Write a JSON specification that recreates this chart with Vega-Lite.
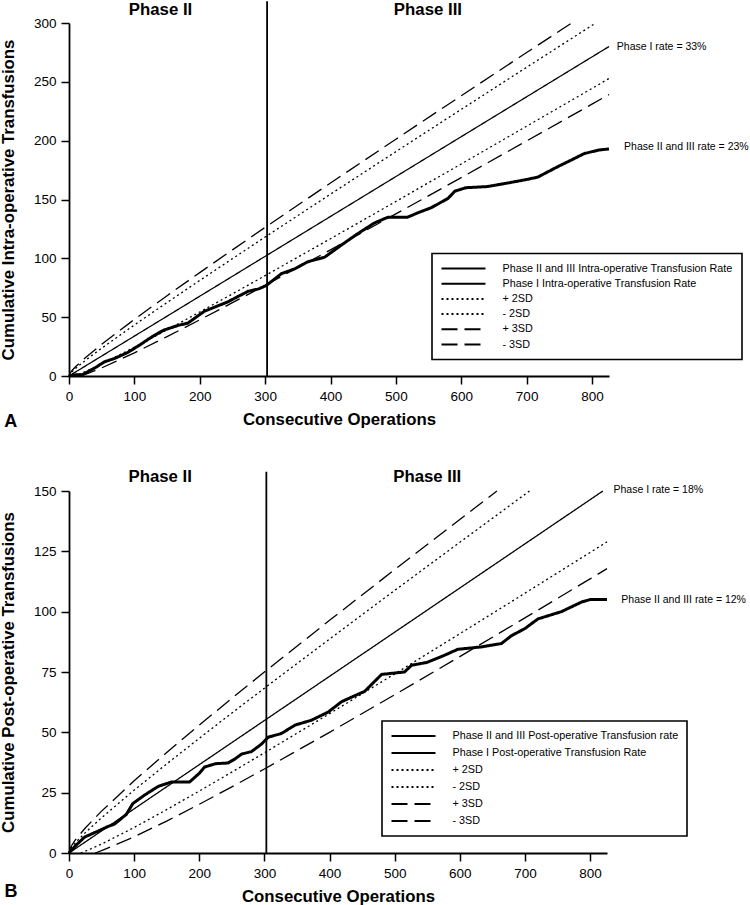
{
  "$schema": "https://vega.github.io/schema/vega-lite/v6.json",
  "padding": {"left": 0, "top": 0, "right": 0, "bottom": 0},
  "background": "white",
  "spacing": 38,
  "config": {
    "font": "Liberation Sans",
    "view": {"stroke": null},
    "axis": {"grid": false, "domainColor": "black", "domainWidth": 1.8, "tickColor": "black", "tickWidth": 1.5, "tickSize": 8, "labelColor": "black", "labelFont": "Liberation Sans", "labelFontSize": 13.5, "titleColor": "black", "titleFont": "Liberation Sans", "titleFontSize": 16.8, "titleFontWeight": "bold"},
    "axisX": {"labelPadding": 5, "titlePadding": 9, "labelFlush": false},
    "axisY": {"labelPadding": 5, "titlePadding": 16},
    "legend": {"strokeWidth": 1.6, "strokeColor": "black", "fillColor": "white", "padding": 8.5, "labelFont": "Liberation Sans", "labelFontSize": 10.8, "labelColor": "black", "labelLimit": 400, "symbolType": "stroke", "symbolSize": 1936, "symbolStrokeWidth": 2, "symbolStrokeColor": "black", "labelOffset": 16, "clipHeight": 13}
  },
  "resolve": {"scale": {"strokeDash": "independent"}, "legend": {"strokeDash": "independent"}},
  "datasets": {
    "a": [
      {"s": "Phase I Intra-operative Transfusion Rate", "n": 0, "v": 0},
      {"s": "Phase I Intra-operative Transfusion Rate", "n": 826, "v": 280},
      {"s": "+ 2SD", "n": 0, "v": 0}, {"s": "+ 2SD", "n": 2, "v": 2.02}, {"s": "+ 2SD", "n": 5, "v": 3.81}, {"s": "+ 2SD", "n": 10, "v": 6.38}, {"s": "+ 2SD", "n": 25, "v": 13.21}, {"s": "+ 2SD", "n": 50, "v": 23.64}, {"s": "+ 2SD", "n": 100, "v": 43.37}, {"s": "+ 2SD", "n": 150, "v": 62.45}, {"s": "+ 2SD", "n": 200, "v": 81.19}, {"s": "+ 2SD", "n": 250, "v": 99.72}, {"s": "+ 2SD", "n": 300, "v": 118.1}, {"s": "+ 2SD", "n": 400, "v": 154.54}, {"s": "+ 2SD", "n": 500, "v": 190.67}, {"s": "+ 2SD", "n": 600, "v": 226.59}, {"s": "+ 2SD", "n": 700, "v": 262.35}, {"s": "+ 2SD", "n": 805.7, "v": 300},
      {"s": "+ 3SD", "n": 0, "v": 0}, {"s": "+ 3SD", "n": 2, "v": 2.69}, {"s": "+ 3SD", "n": 5, "v": 4.87}, {"s": "+ 3SD", "n": 10, "v": 7.88}, {"s": "+ 3SD", "n": 25, "v": 15.58}, {"s": "+ 3SD", "n": 50, "v": 26.99}, {"s": "+ 3SD", "n": 100, "v": 48.1}, {"s": "+ 3SD", "n": 150, "v": 68.24}, {"s": "+ 3SD", "n": 200, "v": 87.88}, {"s": "+ 3SD", "n": 250, "v": 107.21}, {"s": "+ 3SD", "n": 300, "v": 126.3}, {"s": "+ 3SD", "n": 400, "v": 164.0}, {"s": "+ 3SD", "n": 500, "v": 201.26}, {"s": "+ 3SD", "n": 600, "v": 238.19}, {"s": "+ 3SD", "n": 700, "v": 274.88}, {"s": "+ 3SD", "n": 769, "v": 300},
      {"s": "- 2SD", "n": 7.8, "v": 0}, {"s": "- 2SD", "n": 10, "v": 0.4}, {"s": "- 2SD", "n": 25, "v": 3.74}, {"s": "- 2SD", "n": 50, "v": 10.26}, {"s": "- 2SD", "n": 100, "v": 24.43}, {"s": "- 2SD", "n": 150, "v": 39.25}, {"s": "- 2SD", "n": 200, "v": 54.41}, {"s": "- 2SD", "n": 250, "v": 69.78}, {"s": "- 2SD", "n": 300, "v": 85.3}, {"s": "- 2SD", "n": 400, "v": 116.66}, {"s": "- 2SD", "n": 500, "v": 148.33}, {"s": "- 2SD", "n": 600, "v": 180.21}, {"s": "- 2SD", "n": 700, "v": 212.25}, {"s": "- 2SD", "n": 800, "v": 244.42}, {"s": "- 2SD", "n": 826, "v": 252.8},
      {"s": "- 3SD", "n": 17.6, "v": 0}, {"s": "- 3SD", "n": 25, "v": 1.37}, {"s": "- 3SD", "n": 50, "v": 6.91}, {"s": "- 3SD", "n": 100, "v": 19.7}, {"s": "- 3SD", "n": 150, "v": 33.46}, {"s": "- 3SD", "n": 200, "v": 47.72}, {"s": "- 3SD", "n": 250, "v": 62.3}, {"s": "- 3SD", "n": 300, "v": 77.1}, {"s": "- 3SD", "n": 400, "v": 107.2}, {"s": "- 3SD", "n": 500, "v": 137.74}, {"s": "- 3SD", "n": 600, "v": 168.61}, {"s": "- 3SD", "n": 700, "v": 199.73}, {"s": "- 3SD", "n": 800, "v": 231.03}, {"s": "- 3SD", "n": 826, "v": 239.19},
      {"s": "Phase II and III Intra-operative Transfusion Rate", "n": 0, "v": 0},
      {"s": "Phase II and III Intra-operative Transfusion Rate", "n": 10, "v": 1},
      {"s": "Phase II and III Intra-operative Transfusion Rate", "n": 20, "v": 1},
      {"s": "Phase II and III Intra-operative Transfusion Rate", "n": 30, "v": 4},
      {"s": "Phase II and III Intra-operative Transfusion Rate", "n": 40, "v": 7},
      {"s": "Phase II and III Intra-operative Transfusion Rate", "n": 54, "v": 12},
      {"s": "Phase II and III Intra-operative Transfusion Rate", "n": 70, "v": 15},
      {"s": "Phase II and III Intra-operative Transfusion Rate", "n": 90, "v": 20},
      {"s": "Phase II and III Intra-operative Transfusion Rate", "n": 110, "v": 27},
      {"s": "Phase II and III Intra-operative Transfusion Rate", "n": 126, "v": 33},
      {"s": "Phase II and III Intra-operative Transfusion Rate", "n": 145, "v": 39},
      {"s": "Phase II and III Intra-operative Transfusion Rate", "n": 167, "v": 43},
      {"s": "Phase II and III Intra-operative Transfusion Rate", "n": 182, "v": 45},
      {"s": "Phase II and III Intra-operative Transfusion Rate", "n": 207, "v": 55},
      {"s": "Phase II and III Intra-operative Transfusion Rate", "n": 225, "v": 59},
      {"s": "Phase II and III Intra-operative Transfusion Rate", "n": 243, "v": 63},
      {"s": "Phase II and III Intra-operative Transfusion Rate", "n": 260, "v": 68},
      {"s": "Phase II and III Intra-operative Transfusion Rate", "n": 274, "v": 72},
      {"s": "Phase II and III Intra-operative Transfusion Rate", "n": 290, "v": 74},
      {"s": "Phase II and III Intra-operative Transfusion Rate", "n": 302, "v": 77},
      {"s": "Phase II and III Intra-operative Transfusion Rate", "n": 325, "v": 87},
      {"s": "Phase II and III Intra-operative Transfusion Rate", "n": 345, "v": 91},
      {"s": "Phase II and III Intra-operative Transfusion Rate", "n": 365, "v": 97},
      {"s": "Phase II and III Intra-operative Transfusion Rate", "n": 391, "v": 101},
      {"s": "Phase II and III Intra-operative Transfusion Rate", "n": 401, "v": 105},
      {"s": "Phase II and III Intra-operative Transfusion Rate", "n": 416, "v": 111},
      {"s": "Phase II and III Intra-operative Transfusion Rate", "n": 439, "v": 120},
      {"s": "Phase II and III Intra-operative Transfusion Rate", "n": 467, "v": 130},
      {"s": "Phase II and III Intra-operative Transfusion Rate", "n": 488, "v": 135},
      {"s": "Phase II and III Intra-operative Transfusion Rate", "n": 518, "v": 135},
      {"s": "Phase II and III Intra-operative Transfusion Rate", "n": 535, "v": 139},
      {"s": "Phase II and III Intra-operative Transfusion Rate", "n": 554, "v": 143},
      {"s": "Phase II and III Intra-operative Transfusion Rate", "n": 580, "v": 151},
      {"s": "Phase II and III Intra-operative Transfusion Rate", "n": 590, "v": 157},
      {"s": "Phase II and III Intra-operative Transfusion Rate", "n": 607, "v": 160},
      {"s": "Phase II and III Intra-operative Transfusion Rate", "n": 640, "v": 161},
      {"s": "Phase II and III Intra-operative Transfusion Rate", "n": 671, "v": 164},
      {"s": "Phase II and III Intra-operative Transfusion Rate", "n": 700, "v": 167},
      {"s": "Phase II and III Intra-operative Transfusion Rate", "n": 717, "v": 169},
      {"s": "Phase II and III Intra-operative Transfusion Rate", "n": 748, "v": 178},
      {"s": "Phase II and III Intra-operative Transfusion Rate", "n": 770, "v": 184},
      {"s": "Phase II and III Intra-operative Transfusion Rate", "n": 788, "v": 189},
      {"s": "Phase II and III Intra-operative Transfusion Rate", "n": 810, "v": 192},
      {"s": "Phase II and III Intra-operative Transfusion Rate", "n": 826, "v": 193}
    ],
    "b": [
      {"s": "Phase I Post-operative Transfusion Rate", "n": 0, "v": 0},
      {"s": "Phase I Post-operative Transfusion Rate", "n": 819.7, "v": 150},
      {"s": "+ 2SD", "n": 0, "v": 0}, {"s": "+ 2SD", "n": 2, "v": 1.46}, {"s": "+ 2SD", "n": 5, "v": 2.64}, {"s": "+ 2SD", "n": 10, "v": 4.28}, {"s": "+ 2SD", "n": 25, "v": 8.44}, {"s": "+ 2SD", "n": 50, "v": 14.62}, {"s": "+ 2SD", "n": 100, "v": 26.03}, {"s": "+ 2SD", "n": 150, "v": 36.92}, {"s": "+ 2SD", "n": 200, "v": 47.54}, {"s": "+ 2SD", "n": 250, "v": 57.98}, {"s": "+ 2SD", "n": 300, "v": 68.29}, {"s": "+ 2SD", "n": 400, "v": 88.67}, {"s": "+ 2SD", "n": 500, "v": 108.79}, {"s": "+ 2SD", "n": 600, "v": 128.74}, {"s": "+ 2SD", "n": 707, "v": 150},
      {"s": "+ 3SD", "n": 0, "v": 0}, {"s": "+ 3SD", "n": 2, "v": 2.01}, {"s": "+ 3SD", "n": 5, "v": 3.51}, {"s": "+ 3SD", "n": 10, "v": 5.5}, {"s": "+ 3SD", "n": 25, "v": 10.37}, {"s": "+ 3SD", "n": 50, "v": 17.35}, {"s": "+ 3SD", "n": 100, "v": 29.9}, {"s": "+ 3SD", "n": 150, "v": 41.66}, {"s": "+ 3SD", "n": 200, "v": 53.0}, {"s": "+ 3SD", "n": 250, "v": 64.09}, {"s": "+ 3SD", "n": 300, "v": 74.99}, {"s": "+ 3SD", "n": 400, "v": 96.4}, {"s": "+ 3SD", "n": 500, "v": 117.44}, {"s": "+ 3SD", "n": 600, "v": 138.21}, {"s": "+ 3SD", "n": 657, "v": 150},
      {"s": "- 2SD", "n": 17.9, "v": 0}, {"s": "- 2SD", "n": 25, "v": 0.71}, {"s": "- 2SD", "n": 50, "v": 3.68}, {"s": "- 2SD", "n": 100, "v": 10.57}, {"s": "- 2SD", "n": 150, "v": 17.98}, {"s": "- 2SD", "n": 200, "v": 25.66}, {"s": "- 2SD", "n": 250, "v": 33.52}, {"s": "- 2SD", "n": 300, "v": 41.51}, {"s": "- 2SD", "n": 400, "v": 57.73}, {"s": "- 2SD", "n": 500, "v": 74.21}, {"s": "- 2SD", "n": 600, "v": 90.86}, {"s": "- 2SD", "n": 700, "v": 107.64}, {"s": "- 2SD", "n": 800, "v": 124.53}, {"s": "- 2SD", "n": 826, "v": 128.93},
      {"s": "- 3SD", "n": 40.2, "v": 0}, {"s": "- 3SD", "n": 50, "v": 0.95}, {"s": "- 3SD", "n": 100, "v": 6.7}, {"s": "- 3SD", "n": 150, "v": 13.24}, {"s": "- 3SD", "n": 200, "v": 20.2}, {"s": "- 3SD", "n": 250, "v": 27.41}, {"s": "- 3SD", "n": 300, "v": 34.81}, {"s": "- 3SD", "n": 400, "v": 50.0}, {"s": "- 3SD", "n": 500, "v": 65.56}, {"s": "- 3SD", "n": 600, "v": 81.39}, {"s": "- 3SD", "n": 700, "v": 97.41}, {"s": "- 3SD", "n": 800, "v": 113.59}, {"s": "- 3SD", "n": 826, "v": 117.82},
      {"s": "Phase II and III Post-operative Transfusion rate", "n": 0, "v": 0},
      {"s": "Phase II and III Post-operative Transfusion rate", "n": 10, "v": 3},
      {"s": "Phase II and III Post-operative Transfusion rate", "n": 24, "v": 6.6},
      {"s": "Phase II and III Post-operative Transfusion rate", "n": 44, "v": 9},
      {"s": "Phase II and III Post-operative Transfusion rate", "n": 60, "v": 11},
      {"s": "Phase II and III Post-operative Transfusion rate", "n": 70, "v": 12},
      {"s": "Phase II and III Post-operative Transfusion rate", "n": 88, "v": 16},
      {"s": "Phase II and III Post-operative Transfusion rate", "n": 98, "v": 20.5},
      {"s": "Phase II and III Post-operative Transfusion rate", "n": 116, "v": 24},
      {"s": "Phase II and III Post-operative Transfusion rate", "n": 137, "v": 27.6},
      {"s": "Phase II and III Post-operative Transfusion rate", "n": 157, "v": 29.4},
      {"s": "Phase II and III Post-operative Transfusion rate", "n": 185, "v": 29.4},
      {"s": "Phase II and III Post-operative Transfusion rate", "n": 200, "v": 33},
      {"s": "Phase II and III Post-operative Transfusion rate", "n": 208, "v": 35.6},
      {"s": "Phase II and III Post-operative Transfusion rate", "n": 225, "v": 37},
      {"s": "Phase II and III Post-operative Transfusion rate", "n": 244, "v": 37.3},
      {"s": "Phase II and III Post-operative Transfusion rate", "n": 255, "v": 39},
      {"s": "Phase II and III Post-operative Transfusion rate", "n": 265, "v": 41},
      {"s": "Phase II and III Post-operative Transfusion rate", "n": 280, "v": 42},
      {"s": "Phase II and III Post-operative Transfusion rate", "n": 295, "v": 45},
      {"s": "Phase II and III Post-operative Transfusion rate", "n": 306, "v": 48},
      {"s": "Phase II and III Post-operative Transfusion rate", "n": 326, "v": 49.5},
      {"s": "Phase II and III Post-operative Transfusion rate", "n": 347, "v": 53},
      {"s": "Phase II and III Post-operative Transfusion rate", "n": 372, "v": 55},
      {"s": "Phase II and III Post-operative Transfusion rate", "n": 398, "v": 58.4},
      {"s": "Phase II and III Post-operative Transfusion rate", "n": 418, "v": 62.6},
      {"s": "Phase II and III Post-operative Transfusion rate", "n": 429, "v": 64},
      {"s": "Phase II and III Post-operative Transfusion rate", "n": 454, "v": 67},
      {"s": "Phase II and III Post-operative Transfusion rate", "n": 480, "v": 74},
      {"s": "Phase II and III Post-operative Transfusion rate", "n": 515, "v": 75},
      {"s": "Phase II and III Post-operative Transfusion rate", "n": 526, "v": 77.8},
      {"s": "Phase II and III Post-operative Transfusion rate", "n": 550, "v": 79},
      {"s": "Phase II and III Post-operative Transfusion rate", "n": 577, "v": 82},
      {"s": "Phase II and III Post-operative Transfusion rate", "n": 597, "v": 84.4},
      {"s": "Phase II and III Post-operative Transfusion rate", "n": 633, "v": 85.4},
      {"s": "Phase II and III Post-operative Transfusion rate", "n": 664, "v": 86.8},
      {"s": "Phase II and III Post-operative Transfusion rate", "n": 679, "v": 90},
      {"s": "Phase II and III Post-operative Transfusion rate", "n": 700, "v": 93},
      {"s": "Phase II and III Post-operative Transfusion rate", "n": 720, "v": 97},
      {"s": "Phase II and III Post-operative Transfusion rate", "n": 756, "v": 100},
      {"s": "Phase II and III Post-operative Transfusion rate", "n": 787, "v": 104},
      {"s": "Phase II and III Post-operative Transfusion rate", "n": 800, "v": 105},
      {"s": "Phase II and III Post-operative Transfusion rate", "n": 826, "v": 105}
    ]
  },
  "vconcat": [
    {
      "width": 540,
      "height": 353,
      "layer": [
        {
          "data": {"name": "a"},
          "transform": [{"filter": "datum.s != 'Phase II and III Intra-operative Transfusion Rate'"}],
          "mark": {"type": "line", "color": "black", "strokeWidth": 1.3},
          "encoding": {
            "x": {"field": "n", "type": "quantitative", "scale": {"domain": [0, 826], "nice": false}, "axis": {"values": [0, 100, 200, 300, 400, 500, 600, 700, 800], "title": "Consecutive Operations"}},
            "y": {"field": "v", "type": "quantitative", "scale": {"domain": [0, 300], "nice": false}, "axis": {"values": [0, 50, 100, 150, 200, 250, 300], "title": "Cumulative Intra-operative Transfusions"}},
            "strokeDash": {"field": "s", "type": "nominal",
              "scale": {"domain": ["Phase II and III Intra-operative Transfusion Rate", "Phase I Intra-operative Transfusion Rate", "+ 2SD", "- 2SD", "+ 3SD", "- 3SD"], "range": [[1, 0], [1, 0], [2, 3], [2, 3], [16, 7], [16, 7]]},
              "legend": {"title": null, "orient": "none", "legendX": 363, "legendY": 230.5, "direction": "vertical", "rowPadding": 2.2}}
          }
        },
        {
          "data": {"name": "a"},
          "transform": [{"filter": "datum.s == 'Phase II and III Intra-operative Transfusion Rate'"}],
          "mark": {"type": "line", "color": "black", "strokeWidth": 3},
          "encoding": {
            "x": {"field": "n", "type": "quantitative"},
            "y": {"field": "v", "type": "quantitative"},
            "strokeDash": {"field": "s", "type": "nominal"}
          }
        },
        {
          "data": {"values": [{}]},
          "mark": {"type": "rule", "color": "black", "strokeWidth": 1.8},
          "encoding": {"x": {"datum": 303, "type": "quantitative"}, "y": {"datum": 0, "type": "quantitative"}, "y2": {"datum": 318.5}}
        },
        {
          "data": {"values": [{}]},
          "mark": {"type": "text", "text": "Phase II", "fontSize": 16.8, "fontWeight": "bold", "align": "center", "baseline": "middle", "color": "black"},
          "encoding": {"x": {"datum": 140, "type": "quantitative"}, "y": {"datum": 311, "type": "quantitative"}}
        },
        {
          "data": {"values": [{}]},
          "mark": {"type": "text", "text": "Phase III", "fontSize": 16.8, "fontWeight": "bold", "align": "center", "baseline": "middle", "color": "black"},
          "encoding": {"x": {"datum": 549, "type": "quantitative"}, "y": {"datum": 311, "type": "quantitative"}}
        },
        {
          "data": {"values": [{}]},
          "mark": {"type": "text", "text": "Phase I rate = 33%", "fontSize": 10.5, "align": "left", "baseline": "middle", "color": "black"},
          "encoding": {"x": {"datum": 838, "type": "quantitative"}, "y": {"datum": 280, "type": "quantitative"}}
        },
        {
          "data": {"values": [{}]},
          "mark": {"type": "text", "text": "Phase II and III rate = 23%", "fontSize": 10.5, "align": "left", "baseline": "middle", "color": "black"},
          "encoding": {"x": {"datum": 849, "type": "quantitative"}, "y": {"datum": 195, "type": "quantitative"}}
        },
        {
          "data": {"values": [{}]},
          "mark": {"type": "text", "text": "A", "fontSize": 18, "fontWeight": "bold", "align": "center", "baseline": "middle", "color": "black"},
          "encoding": {"x": {"datum": -89, "type": "quantitative"}, "y": {"datum": -38.7, "type": "quantitative"}}
        }
      ]
    },
    {
      "width": 538,
      "height": 362,
      "layer": [
        {
          "data": {"name": "b"},
          "transform": [{"filter": "datum.s != 'Phase II and III Post-operative Transfusion rate'"}],
          "mark": {"type": "line", "color": "black", "strokeWidth": 1.3},
          "encoding": {
            "x": {"field": "n", "type": "quantitative", "scale": {"domain": [0, 826], "nice": false}, "axis": {"values": [0, 100, 200, 300, 400, 500, 600, 700, 800], "title": "Consecutive Operations"}},
            "y": {"field": "v", "type": "quantitative", "scale": {"domain": [0, 150], "nice": false}, "axis": {"values": [0, 25, 50, 75, 100, 125, 150], "title": "Cumulative Post-operative Transfusions"}},
            "strokeDash": {"field": "s", "type": "nominal",
              "scale": {"domain": ["Phase II and III Post-operative Transfusion rate", "Phase I Post-operative Transfusion Rate", "+ 2SD", "- 2SD", "+ 3SD", "- 3SD"], "range": [[1, 0], [1, 0], [2, 3], [2, 3], [16, 7], [16, 7]]},
              "legend": {"title": null, "orient": "none", "legendX": 313, "legendY": 230, "direction": "vertical", "rowPadding": 4}}
          }
        },
        {
          "data": {"name": "b"},
          "transform": [{"filter": "datum.s == 'Phase II and III Post-operative Transfusion rate'"}],
          "mark": {"type": "line", "color": "black", "strokeWidth": 3},
          "encoding": {
            "x": {"field": "n", "type": "quantitative"},
            "y": {"field": "v", "type": "quantitative"},
            "strokeDash": {"field": "s", "type": "nominal"}
          }
        },
        {
          "data": {"values": [{}]},
          "mark": {"type": "rule", "color": "black", "strokeWidth": 1.8},
          "encoding": {"x": {"datum": 303, "type": "quantitative"}, "y": {"datum": 0, "type": "quantitative"}, "y2": {"datum": 158}}
        },
        {
          "data": {"values": [{}]},
          "mark": {"type": "text", "text": "Phase II", "fontSize": 16.8, "fontWeight": "bold", "align": "center", "baseline": "middle", "color": "black"},
          "encoding": {"x": {"datum": 140, "type": "quantitative"}, "y": {"datum": 155.6, "type": "quantitative"}}
        },
        {
          "data": {"values": [{}]},
          "mark": {"type": "text", "text": "Phase III", "fontSize": 16.8, "fontWeight": "bold", "align": "center", "baseline": "middle", "color": "black"},
          "encoding": {"x": {"datum": 550, "type": "quantitative"}, "y": {"datum": 155.6, "type": "quantitative"}}
        },
        {
          "data": {"values": [{}]},
          "mark": {"type": "text", "text": "Phase I rate = 18%", "fontSize": 10.5, "align": "left", "baseline": "middle", "color": "black"},
          "encoding": {"x": {"datum": 836, "type": "quantitative"}, "y": {"datum": 150.6, "type": "quantitative"}}
        },
        {
          "data": {"values": [{}]},
          "mark": {"type": "text", "text": "Phase II and III rate = 12%", "fontSize": 10.5, "align": "left", "baseline": "middle", "color": "black"},
          "encoding": {"x": {"datum": 848, "type": "quantitative"}, "y": {"datum": 104.7, "type": "quantitative"}}
        },
        {
          "data": {"values": [{}]},
          "mark": {"type": "text", "text": "B", "fontSize": 18, "fontWeight": "bold", "align": "center", "baseline": "middle", "color": "black"},
          "encoding": {"x": {"datum": -89, "type": "quantitative"}, "y": {"datum": -16.3, "type": "quantitative"}}
        }
      ]
    }
  ]
}
